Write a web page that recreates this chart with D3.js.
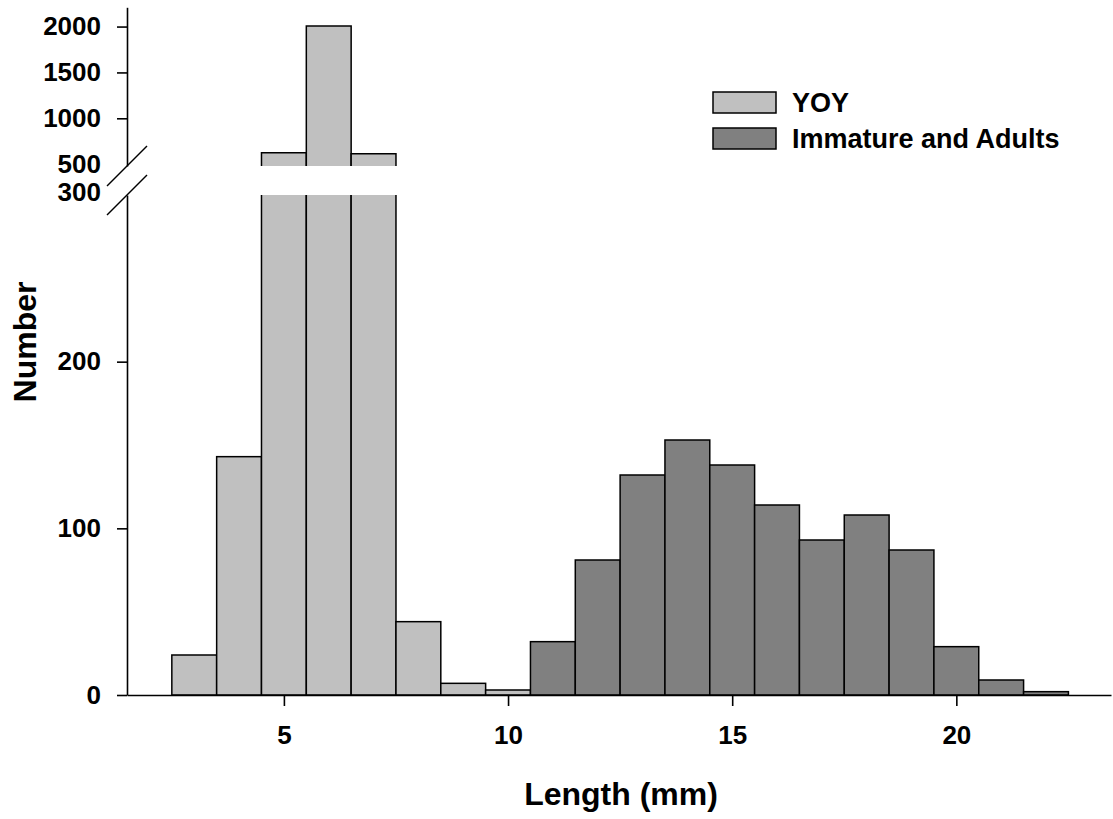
<!DOCTYPE html>
<html>
<head>
<meta charset="utf-8">
<script src="https://cdn.jsdelivr.net/npm/d3@7"></script>
<style>
  body { margin: 0; background: #fff; }
  svg text { font-family: "Liberation Sans", Arial, sans-serif; font-weight: bold; fill: #000; }
</style>
</head>
<body>
<div class="container"></div>
<script>
// data
let yoyLength = [3, 4, 5, 6, 7, 8, 9, 10];
let yoyCount = [24, 143, 625, 2005, 614, 44, 7, 3];
let adultLength = [11, 12, 13, 14, 15, 16, 17, 18, 19, 20, 21, 22];
let adultCount = [32, 81, 132, 153, 138, 114, 93, 108, 87, 29, 9, 2];
let seriesNames = ['YOY', 'Immature and Adults'];
let xTicks = [5, 10, 15, 20];
let yLowTicks = [0, 100, 200, 300];
let yHighTicks = [500, 1000, 1500, 2000];

let outerWidth = 1113, outerHeight = 819;
let axisX = 127, axisY = 695;
let breakTop = 166, breakBottom = 195;
let colors = {'YOY': '#c0c0c0', 'Immature and Adults': '#808080'};

let svg = d3.select('.container').append('svg')
  .attr('width', outerWidth)
  .attr('height', outerHeight);

let x = d3.scaleLinear().domain([1.5, 23.45]).range([axisX, 1111]);
let yLow = d3.scaleLinear().domain([0, 300]).range([axisY, breakBottom]);
let yHigh = d3.scaleLinear().domain([480, 2210]).range([breakTop, 7.3]);
let lowMax = 300;

let data = yoyLength.map((d, i) => ({len: d, n: yoyCount[i], s: 'YOY'}))
  .concat(adultLength.map((d, i) => ({len: d, n: adultCount[i], s: 'Immature and Adults'})));

let bars = svg.append('g');
data.forEach(d => {
  let x0 = x(d.len - 0.5), x1 = x(d.len + 0.5);
  let g = bars.append('g');
  if (d.n <= lowMax) {
    g.append('rect')
      .attr('x', x0).attr('y', yLow(d.n))
      .attr('width', x1 - x0).attr('height', yLow(0) - yLow(d.n))
      .attr('fill', colors[d.s]).attr('stroke', '#000').attr('stroke-width', 1.5);
  } else {
    // lower piece, open at the top
    g.append('rect')
      .attr('x', x0).attr('y', yLow(lowMax))
      .attr('width', x1 - x0).attr('height', yLow(0) - yLow(lowMax))
      .attr('fill', colors[d.s]);
    g.append('path')
      .attr('d', `M${x0},${yLow(lowMax)}V${yLow(0)}H${x1}V${yLow(lowMax)}`)
      .attr('fill', 'none').attr('stroke', '#000').attr('stroke-width', 1.5);
    // upper piece, open at the bottom
    g.append('rect')
      .attr('x', x0).attr('y', yHigh(d.n))
      .attr('width', x1 - x0).attr('height', breakTop - yHigh(d.n))
      .attr('fill', colors[d.s]);
    g.append('path')
      .attr('d', `M${x0},${breakTop}V${yHigh(d.n)}H${x1}V${breakTop}`)
      .attr('fill', 'none').attr('stroke', '#000').attr('stroke-width', 1.5);
  }
});

// x axis
let xAxis = d3.axisBottom(x).tickValues(xTicks).tickSize(11).tickSizeOuter(0);
let gx = svg.append('g')
  .attr('transform', `translate(0,${axisY})`)
  .call(xAxis);
gx.selectAll('text').style('font-size', '26px').attr('y', 49).attr('dy', 0);

// y axis, two pieces
let fmt = d3.format('d');
let gyl = svg.append('g')
  .attr('transform', `translate(${axisX},0)`)
  .call(d3.axisLeft(yLow).tickValues(yLowTicks).tickFormat(fmt).tickSize(10).tickSizeOuter(0).tickPadding(16));
gyl.selectAll('.tick').filter(d => d === 300).select('line').remove();
gyl.selectAll('.tick').filter(d => d === 300).select('text').attr('y', -3);

let gyh = svg.append('g')
  .attr('transform', `translate(${axisX},0)`)
  .call(d3.axisLeft(yHigh).tickValues(yHighTicks).tickFormat(fmt).tickSize(10).tickSizeOuter(0).tickPadding(16));
gyh.selectAll('.tick').filter(d => d === 500).select('line').remove();

svg.selectAll('.domain, .tick line').attr('stroke', '#000').attr('stroke-width', 1.6);
gyl.selectAll('text').style('font-size', '26px');
gyh.selectAll('text').style('font-size', '26px');
svg.selectAll('.tick text').attr('fill', '#000');

// break marks
[breakTop, breakBottom].forEach(b => {
  svg.append('line')
    .attr('x1', axisX - 20).attr('y1', b + 20)
    .attr('x2', axisX + 20).attr('y2', b - 20)
    .attr('stroke', '#000').attr('stroke-width', 1.5);
});

// axis titles
svg.append('text')
  .attr('x', 621).attr('y', 805)
  .style('text-anchor', 'middle').style('font-size', '32px')
  .text('Length (mm)');

svg.append('text')
  .attr('transform', 'rotate(-90)')
  .attr('x', -342).attr('y', 36)
  .style('text-anchor', 'middle').style('font-size', '32px')
  .text('Number');

// legend
let legend = svg.append('g').attr('transform', 'translate(713,92)');
seriesNames.forEach((s, i) => {
  legend.append('rect')
    .attr('x', 0).attr('y', i * 36)
    .attr('width', 63).attr('height', 21)
    .attr('fill', colors[s]).attr('stroke', '#000').attr('stroke-width', 1.5);
  legend.append('text')
    .attr('x', 79).attr('y', i * 36 + 20)
    .style('font-size', '27px')
    .text(s);
});
</script>
</body>
</html>
